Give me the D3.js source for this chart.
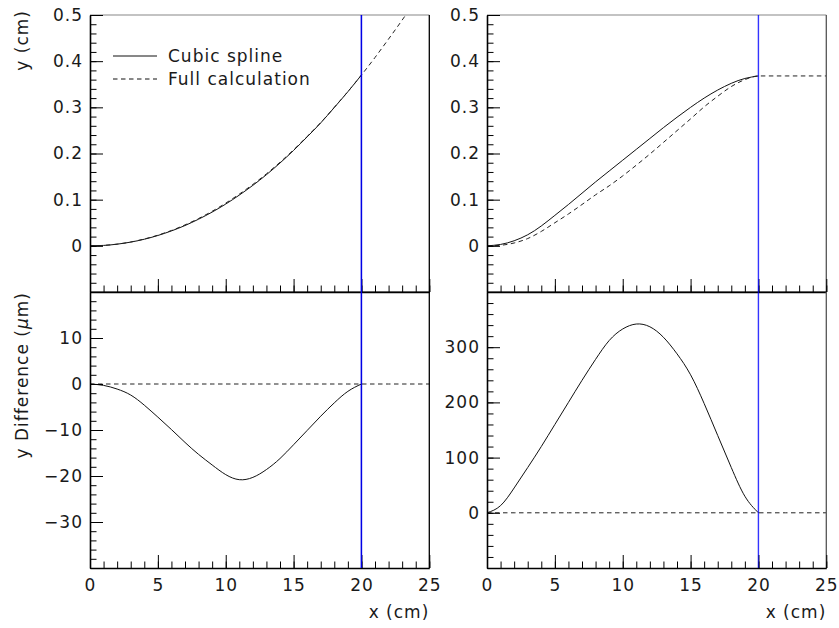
<!DOCTYPE html>
<html>
<head>
<meta charset="utf-8">
<script src="https://cdn.jsdelivr.net/npm/d3@7"></script>
<style>
  html, body { margin: 0; padding: 0; background: #fff; }
  svg text { font-family: "DejaVu Sans", sans-serif; font-size: 17px; letter-spacing: 1px; fill: #1a1a1a; }
</style>
</head>
<body>
<svg id="chart" width="839" height="628"></svg>
<script>
// ---------------- data ----------------
const xs = [0,1,2,3,4,5,6,7,8,9,10,11,12,13,14,15,16,17,18,19,20];
const xsExt = [0,1,2,3,4,5,6,7,8,9,10,11,12,13,14,15,16,17,18,19,20,21,22,23,24,25];

// Top-left panel (y in cm)
const splineTL = [0,0.0009,0.0036,0.0081,0.0143,0.0224,0.0323,0.0440,0.0577,0.0731,0.0905,0.1099,0.1310,0.1541,0.1794,0.2067,0.2360,0.2663,0.2996,0.3338,0.3700];
const fullTL   = [0,0.0009,0.0037,0.0083,0.0148,0.0231,0.0333,0.0453,0.0592,0.0749,0.0925,0.1120,0.1330,0.1560,0.1810,0.2080,0.2370,0.2670,0.3000,0.3340,0.3700,0.4080,0.4480,0.4890,0.5320,0.5760];

// Top-right panel (y in cm)
const splineTR = [0,0.0030,0.0110,0.0240,0.0430,0.0660,0.0895,0.1140,0.1385,0.1620,0.1855,0.2090,0.2325,0.2560,0.2785,0.3000,0.3200,0.3375,0.3520,0.3625,0.3680];
const fullTR   = [0,0.0012,0.0062,0.0158,0.0312,0.0500,0.0690,0.0895,0.1105,0.1300,0.1515,0.1747,0.1988,0.2240,0.2495,0.2750,0.3010,0.3240,0.3450,0.3600,0.3680,0.3680,0.3680,0.3680,0.3680,0.3680];

// Bottom panels: y difference (micrometres)
const diffL = [0,-0.3,-1.1,-2.4,-4.6,-7.2,-9.9,-12.7,-15.3,-17.6,-19.7,-20.8,-20.3,-18.6,-16.2,-13.2,-10.1,-7.0,-4.1,-1.6,0];
const diffR = [0,13,45,82,120,160,200,240,278,312,333,342,337,318,288,250,198,140,82,30,0];
const zeroRef = [0,0,0,0,0,0,0,0,0,0,0,0,0,0,0,0,0,0,0,0,0,0,0,0,0,0];

// axis tick values
const xMajor = [0,5,10,15,20,25];
const yTopMajor = [0,0.1,0.2,0.3,0.4,0.5];
const yBLMajor = [10,0,-10,-20,-30];
const yBRMajor = [0,100,200,300];
const xCut = 20;

const legendLabels = ["Cubic spline", "Full calculation"];
const xTitle = "x (cm)";
const yTopTitle = "y (cm)";

// ---------------- layout ----------------
const svg = d3.select("#chart");
const colX = [[90, 429.3], [487, 826.3]];
const rowY = [[15, 292], [292, 568]];

const panels = [
  {col:0,row:0, domain:[-0.1,0.5], major:yTopMajor, minorStep:0.02, curves:[{x:xs,y:splineTL,dash:false},{x:xsExt,y:fullTL,dash:true}], fmt:d=> d===0?"0":d3.format(".1f")(d), lineColor:"#0000e6", lineOpacity:1},
  {col:1,row:0, domain:[-0.1,0.5], major:yTopMajor, minorStep:0.02, curves:[{x:xs,y:splineTR,dash:false},{x:xsExt,y:fullTR,dash:true,mono:true}], fmt:d=> d===0?"0":d3.format(".1f")(d), lineColor:"#0000ff", lineOpacity:0.55},
  {col:0,row:1, domain:[-40,20], major:yBLMajor, minorStep:2, curves:[{x:xs,y:diffL,dash:false},{x:xsExt,y:zeroRef,dash:true}], fmt:d=> d<0 ? "\u2212"+Math.abs(d) : String(d), lineColor:"#0000e6", lineOpacity:1},
  {col:1,row:1, domain:[-100,400], major:yBRMajor, minorStep:20, curves:[{x:xs,y:diffR,dash:false},{x:xsExt,y:zeroRef,dash:true}], fmt:d=> String(d), lineColor:"#0000ff", lineOpacity:0.55}
];

panels.forEach((p, i) => {
  const [x0, x1] = colX[p.col];
  const [y0, y1] = rowY[p.row];
  const x = d3.scaleLinear().domain([0,25]).range([x0, x1]);
  const y = d3.scaleLinear().domain(p.domain).range([y1, y0]);
  const g = svg.append("g");

  // clip
  const cid = "clip" + i;
  svg.append("clipPath").attr("id", cid).append("rect")
    .attr("x", x0).attr("y", y0).attr("width", x1 - x0).attr("height", y1 - y0);

  // curves
  p.curves.forEach(c => {
    const line = d3.line().curve(c.mono ? d3.curveMonotoneX : d3.curveNatural)
      .x(d => x(d[0])).y(d => y(d[1]));
    const pts = c.x.map((xv, k) => [xv, c.y[k]]);
    g.append("path").attr("d", line(pts)).attr("clip-path", `url(#${cid})`)
      .attr("fill", "none").attr("stroke", c.dash ? "#222" : "#111")
      .attr("stroke-width", 1)
      .attr("stroke-dasharray", c.dash ? "4.5,3.5" : null);
  });

  // frame: top gray, right black
  g.append("line").attr("x1", x0).attr("x2", x1).attr("y1", y0).attr("y2", y0)
    .attr("stroke", p.row === 0 ? "#888" : "#000").attr("stroke-width", 1.2);
  g.append("line").attr("x1", x1).attr("x2", x1).attr("y1", y0).attr("y2", y1)
    .attr("stroke", p.col === 0 ? "#000" : "#555").attr("stroke-width", 1.3);

  // minor ticks
  const yMinor = d3.range(p.domain[0], p.domain[1] + 1e-9, p.minorStep)
    .map(v => +v.toFixed(6));
  g.append("g").attr("transform", `translate(${x0},0)`)
    .call(d3.axisLeft(y).tickValues(yMinor).tickSizeInner(-6.5).tickSizeOuter(0).tickFormat(""))
    .call(s => s.select(".domain").remove())
    .selectAll("line").attr("stroke", "#000");
  const xMinor = d3.range(0, 26, 1);
  g.append("g").attr("transform", `translate(0,${y1})`)
    .call(d3.axisBottom(x).tickValues(xMinor).tickSizeInner(-6.5).tickSizeOuter(0).tickFormat(""))
    .call(s => s.select(".domain").remove())
    .selectAll("line").attr("stroke", "#000");

  // major y axis
  const ya = g.append("g").attr("transform", `translate(${x0},0)`)
    .call(d3.axisLeft(y).tickValues(p.major).tickSizeInner(-13).tickSizeOuter(0).tickPadding(7).tickFormat(p.fmt));
  ya.select(".domain").attr("stroke", "#000").attr("stroke-width", 1.6);
  ya.selectAll("line").attr("stroke", "#000");
  ya.selectAll("text").attr("font-size", 17).attr("fill", "#1a1a1a").attr("font-family", null);

  // major x axis
  const xa = g.append("g").attr("transform", `translate(0,${y1})`)
    .call(d3.axisBottom(x).tickValues(xMajor).tickSizeInner(-13).tickSizeOuter(0).tickPadding(11)
      .tickFormat(p.row === 1 ? d3.format("d") : ""));
  xa.select(".domain").attr("stroke", "#000").attr("stroke-width", 1.6);
  xa.selectAll("line").attr("stroke", "#000");
  xa.selectAll("text").attr("font-size", 17).attr("fill", "#1a1a1a").attr("font-family", null);

  // vertical cut line at x = 20
  svg.append("line").attr("x1", x(xCut)).attr("x2", x(xCut))
    .attr("y1", rowY[0][0]).attr("y2", rowY[1][1])
    .attr("stroke", p.lineColor).attr("stroke-opacity", p.lineOpacity).attr("stroke-width", 1.3);

  if (p.row === 1) {
    svg.append("text").attr("x", x1).attr("y", 618).attr("text-anchor", "end").text(xTitle);
  }
});

// y titles
svg.append("text").attr("transform", "translate(28,10) rotate(-90)")
  .attr("text-anchor", "end").text(yTopTitle);
const t2 = svg.append("text").attr("transform", "translate(28,292) rotate(-90)")
  .attr("text-anchor", "end");
t2.append("tspan").text("y Difference (");
t2.append("tspan").attr("font-style", "italic").text("\u03bc");
t2.append("tspan").text("m)");

// legend
const leg = svg.append("g");
const legY = [56, 79];
legendLabels.forEach((lab, k) => {
  leg.append("line").attr("x1", 113).attr("x2", 157).attr("y1", legY[k]).attr("y2", legY[k])
    .attr("stroke", "#111").attr("stroke-width", 1)
    .attr("stroke-dasharray", k === 1 ? "4.5,3.5" : null);
  leg.append("text").attr("x", 168).attr("y", legY[k] + 6).text(lab);
});
</script>
</body>
</html>
